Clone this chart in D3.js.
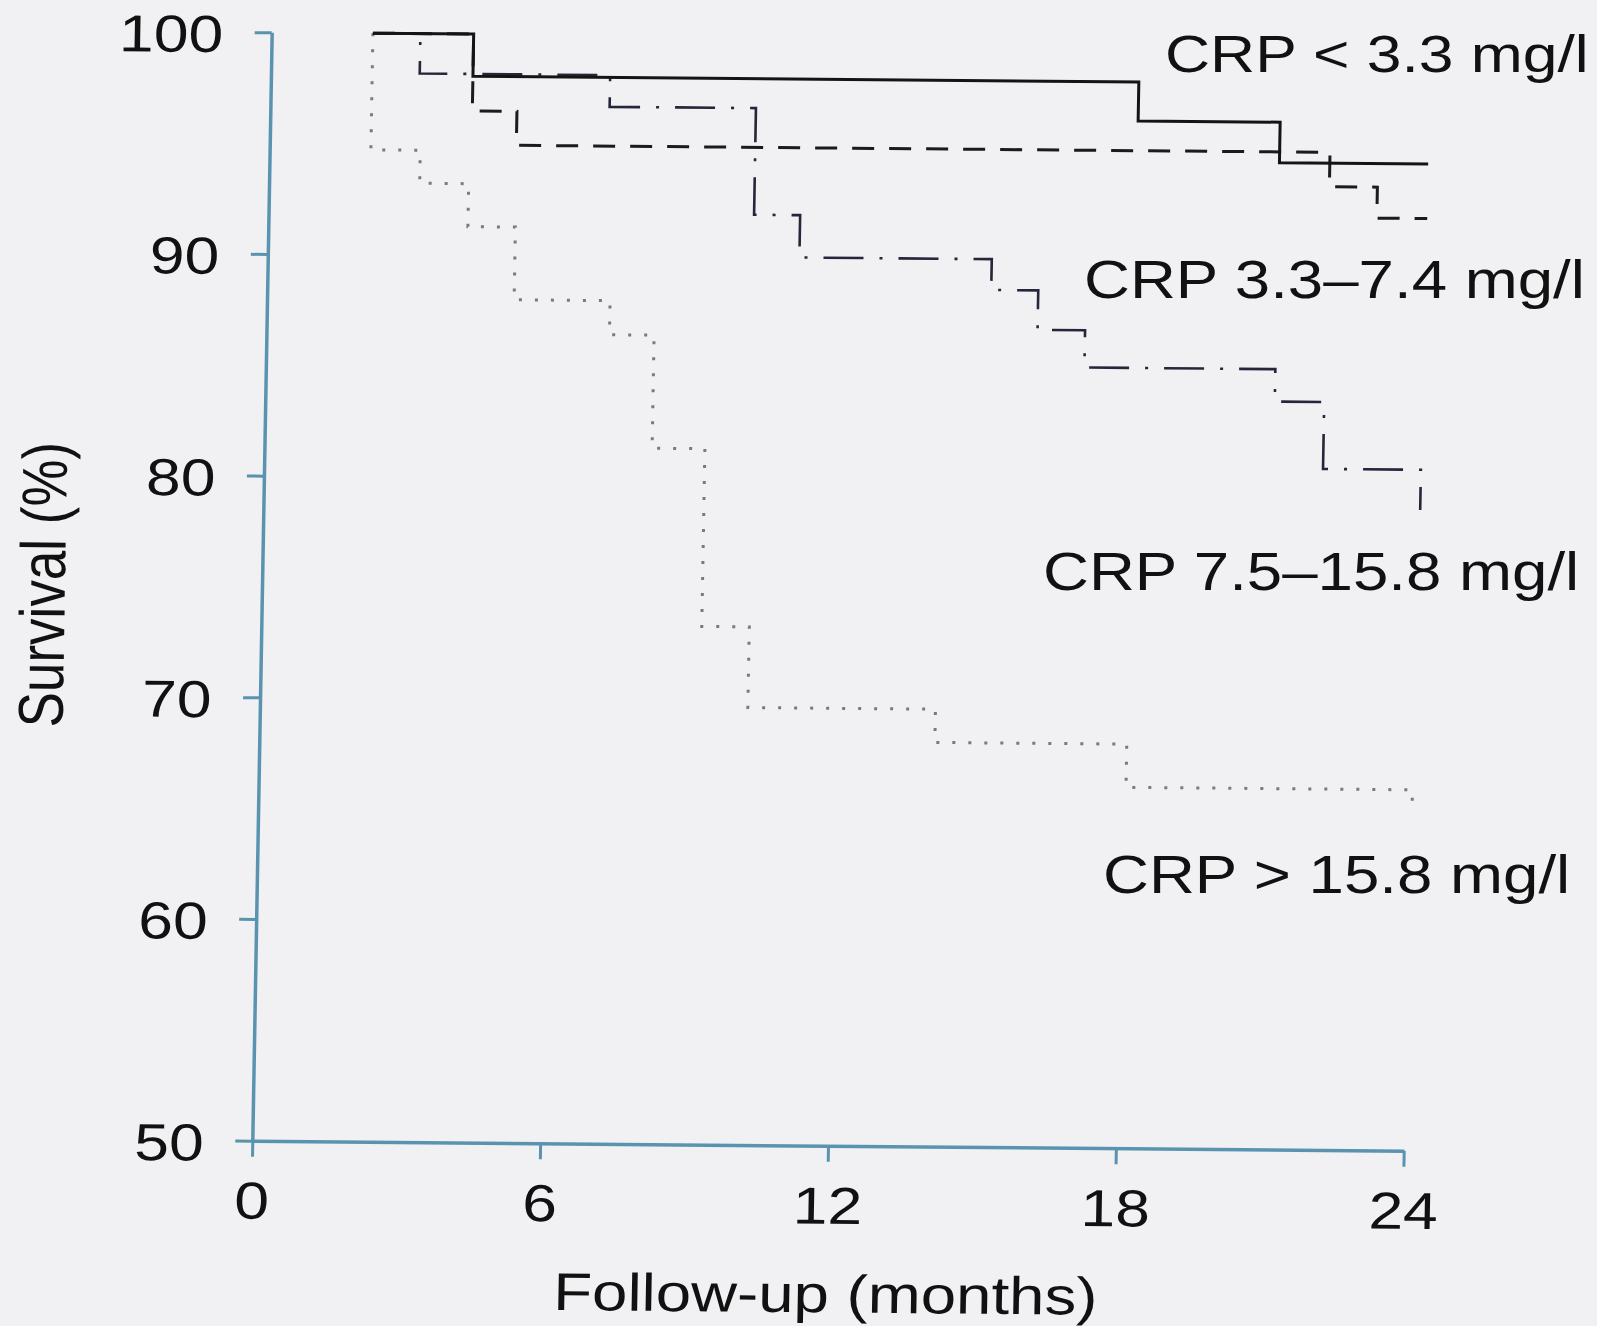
<!DOCTYPE html>
<html>
<head>
<meta charset="utf-8">
<script src="https://cdn.jsdelivr.net/npm/d3@7"></script>
<style>
  html, body { margin: 0; padding: 0; background: #f1f1f3; }
  svg { display: block; }
</style>
</head>
<body>
<svg id="chart" width="1597" height="1326"></svg>
<script>
// ---------------- data ----------------
const xTicks = [0, 6, 12, 18, 24];
const yTicks = [50, 60, 70, 80, 90, 100];
const xTitle = "Follow-up (months)";
const yTitle = "Survival (%)";
const seriesNames = ["CRP < 3.3 mg/l", "CRP 3.3–7.4 mg/l", "CRP 7.5–15.8 mg/l", "CRP > 15.8 mg/l"];

// Kaplan–Meier steps: [month, survival %]
const crpBelow3_3 = [[2.11, 100], [4.21, 98.1], [18.09, 96.34], [21.05, 94.51], [24.15, 94.51]];
const crp3_3to7_4 = [[2.11, 100], [4.21, 96.53], [5.14, 95.0], [22.10, 93.45], [23.10, 92.05], [24.15, 92.05]];
const crp7_5to15_8 = [[2.11, 100], [3.10, 98.2], [7.07, 96.77], [10.12, 91.96], [11.08, 90.05], [15.09, 88.66],
                      [16.07, 86.88], [17.06, 85.2], [21.04, 83.74], [22.07, 80.72], [24.11, 78.9]];
const crpAbove15_8 = [[2.11, 100], [2.11, 94.74], [3.14, 93.25], [4.16, 91.31], [5.15, 88.03], [7.15, 86.49],
                      [8.08, 81.39], [9.18, 73.37], [10.17, 69.73], [14.08, 68.23], [18.08, 66.28], [24.05, 65.23]];

// ---------------- layout ----------------
const FONT = "'Liberation Sans', Arial, Helvetica, sans-serif";
const STRETCH = 1.2;            // the scanned figure is widened horizontally
const axisColor = "#5a93b0";
const W = 1151.4, H = 1108.4;

const svg = d3.select("#chart");
svg.append("rect").attr("width", 1597).attr("height", 1326).attr("fill", "#f1f1f3");

const x = d3.scaleLinear().domain([0, 24]).range([0, W]);
const y = d3.scaleLinear().domain([50, 100]).range([0, -H]);

// slight skew like the scanned page
const g = svg.append("g").attr("transform", "matrix(1,0.00869,-0.0175,1,252.3,1140.7)");

function widen(sel) {
  sel.each(function () {
    const L = this.getComputedTextLength();
    d3.select(this).attr("textLength", L * STRETCH).attr("lengthAdjust", "spacingAndGlyphs");
  });
}

// x axis
const xa = g.append("g")
  .call(d3.axisBottom(x).tickValues(xTicks).tickSize(16).tickSizeOuter(0).tickFormat(d3.format("d")));
xa.select(".domain").attr("stroke", axisColor).attr("stroke-width", 3.5);
xa.selectAll(".tick line").attr("stroke", axisColor).attr("stroke-width", 3);
xa.selectAll(".tick text")
  .attr("y", 78).attr("dy", 0)
  .attr("font-size", 52).attr("font-family", FONT).attr("fill", "#111");
widen(xa.selectAll(".tick text"));

// y axis
const ya = g.append("g")
  .call(d3.axisLeft(y).tickValues(yTicks).tickSize(17).tickSizeOuter(0).tickFormat(d3.format("d")));
ya.select(".domain").attr("stroke", axisColor).attr("stroke-width", 3.5);
ya.selectAll(".tick line").attr("stroke", axisColor).attr("stroke-width", 3);
ya.selectAll(".tick text")
  .attr("x", -48.5).attr("dy", "0.38em").attr("text-anchor", "end")
  .attr("font-size", 52).attr("font-family", FONT).attr("fill", "#111");
widen(ya.selectAll(".tick text"));

// curves
const line = d3.line().x(d => x(d[0])).y(d => y(d[1])).curve(d3.curveStepAfter);
const styles = [
  { data: crpAbove15_8, color: "#7a7a7e", width: 3,   dash: "3,13" },
  { data: crp7_5to15_8, color: "#26263a", width: 2.6, dash: "40,16,3,16" },
  { data: crp3_3to7_4,  color: "#1a1a1f", width: 3,   dash: "22,15" },
  { data: crpBelow3_3,  color: "#141414", width: 3,   dash: null }
];
g.append("g").selectAll("path").data(styles).join("path")
  .attr("d", d => line(d.data))
  .attr("fill", "none")
  .attr("stroke", d => d.color)
  .attr("stroke-width", d => d.width)
  .attr("stroke-dasharray", d => d.dash);

// axis titles
g.append("text")
  .attr("transform", `translate(-197,${y(75)}) scale(${STRETCH},1) rotate(-90)`)
  .attr("text-anchor", "middle").attr("font-size", 53).attr("font-family", FONT).attr("fill", "#111")
  .text(yTitle);
const xt = g.append("text")
  .attr("x", x(12)).attr("y", 166.7).attr("text-anchor", "middle")
  .attr("font-size", 53).attr("font-family", FONT).attr("fill", "#111")
  .text(xTitle);
widen(xt);

// series labels
const labelPos = [
  { x: 1165, y: 71.7, size: 52 },
  { x: 1084, y: 298.3, size: 53 },
  { x: 1043, y: 590, size: 53 },
  { x: 1103, y: 893.3, size: 53 }
];
const lab = svg.append("g").selectAll("text").data(seriesNames).join("text")
  .attr("x", (d, i) => labelPos[i].x)
  .attr("y", (d, i) => labelPos[i].y)
  .attr("font-size", (d, i) => labelPos[i].size)
  .attr("font-family", FONT).attr("fill", "#111")
  .text(d => d);
widen(lab);
</script>
</body>
</html>
